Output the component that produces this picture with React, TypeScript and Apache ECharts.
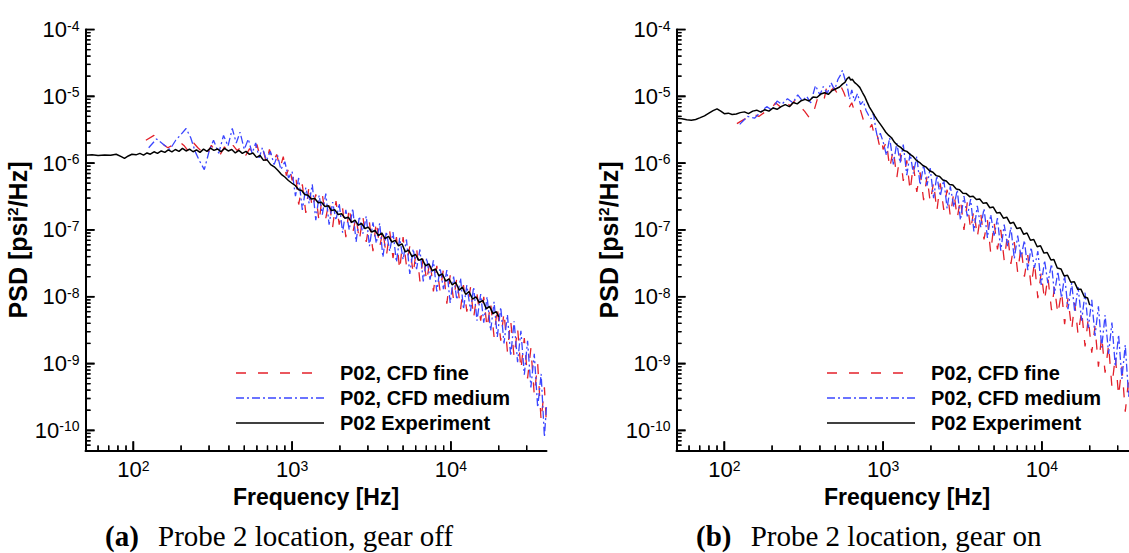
import React, { useEffect, useRef } from 'react';
import * as echarts from 'echarts';

const X_MIN = 50;
const X_MAX = 40000;
const Y_MIN = 5e-11;
const Y_MAX = 1e-4;

const SERIES_NAMES = ['P02, CFD fine', 'P02, CFD medium', 'P02 Experiment'];
const CAPTIONS = [
  { tag: '(a)', text: 'Probe 2 location, gear off' },
  { tag: '(b)', text: 'Probe 2 location, gear on' },
];
const X_TITLE = 'Frequency [Hz]';
const MINOR_MULTIPLIERS = [2, 3, 4, 5, 6, 7, 8, 9];
const X_DECADES = [10, 100, 1000, 10000];
const Y_DECADES = [1e-11, 1e-10, 1e-9, 1e-8, 1e-7, 1e-6, 1e-5];
const X_MAJOR = [100, 1000, 10000];
const Y_MAJOR = [1e-10, 1e-9, 1e-8, 1e-7, 1e-6, 1e-5, 1e-4];

// ---------- (a) gear off ----------
const expA: [number, number][] = [
  [50,1.31e-6],[55,1.33e-6],[60,1.3e-6],[66,1.32e-6],[72,1.31e-6],[78,1.36e-6],[84,1.25e-6],[88,1.18e-6],[93,1.28e-6],[98,1.36e-6],
  [104,1.33e-6],[110,1.4e-6],[116,1.32e-6],[122,1.42e-6],[128,1.36e-6],[135,1.48e-6],[142,1.4e-6],[150,1.52e-6],[158,1.45e-6],[166,1.58e-6],
  [175,1.47e-6],[184,1.6e-6],[194,1.5e-6],[204,1.66e-6],[215,1.52e-6],[226,1.62e-6],[238,1.48e-6],[250,1.58e-6],[263,1.45e-6],[277,1.62e-6],
  [291,1.5e-6],[306,1.68e-6],[322,1.55e-6],[339,1.63e-6],[357,1.48e-6],[376,1.66e-6],[396,1.52e-6],[417,1.6e-6],[439,1.42e-6],[462,1.55e-6],
  [486,1.4e-6],[512,1.5e-6],[539,1.35e-6],[567,1.42e-6],[597,1.22e-6],[628,1.3e-6],[661,1.1e-6],[696,1.12e-6],[733,9.5e-7],[772,8.8e-7],
  [812,7.8e-7],[855,6.8e-7],[900,6.2e-7],[948,5.5e-7],[998,5.0e-7],[1050,4.6e-7],[1100,4.0e-7],[1150,3.9e-7],[1200,3.4e-7],[1260,3.3e-7],
  [1320,2.9e-7],[1390,2.95e-7],[1460,2.55e-7],[1530,2.6e-7],[1610,2.25e-7],[1690,2.3e-7],[1770,1.95e-7],[1860,2.0e-7],[1950,1.7e-7],[2050,1.75e-7],
  [2150,1.5e-7],[2260,1.55e-7],[2370,1.3e-7],[2490,1.4e-7],[2610,1.18e-7],[2740,1.25e-7],[2880,1.05e-7],[3020,1.1e-7],[3170,9.3e-8],[3330,9.8e-8],
  [3500,8.2e-8],[3670,9.0e-8],[3850,7.4e-8],[4050,8.0e-8],[4250,6.6e-8],[4460,7.0e-8],[4680,5.8e-8],[4920,6.2e-8],[5160,4.7e-8],[5420,5.0e-8],
  [5690,4.0e-8],[5980,4.3e-8],[6280,3.5e-8],[6590,3.7e-8],[6920,2.9e-8],[7270,3.1e-8],[7630,2.45e-8],[8010,2.6e-8],[8410,2.05e-8],[8830,2.2e-8],
  [9270,1.72e-8],[9740,1.85e-8],[10200,1.5e-8],[10700,1.65e-8],[11300,1.25e-8],[11800,1.4e-8],[12400,1.08e-8],[13000,1.2e-8],[13700,9.2e-9],[14400,1.0e-8],
  [15100,8.2e-9],[15900,8.8e-9],[16700,6.6e-9],[17500,7.2e-9],[18400,5.6e-9],[19300,6.0e-9],[20000,5.0e-9],
];

const fineA: [number, number][] = [
  [120,2.2e-6],[135,2.6e-6],[150,2.0e-6],[165,1.7e-6],[180,1.9e-6],[195,2.1e-6],[210,1.8e-6],[225,1.45e-6],[240,2.0e-6],[255,1.7e-6],
  [270,1.5e-6],[290,1.3e-6],[310,1.85e-6],[330,1.5e-6],[350,1.3e-6],[375,1.75e-6],[400,1.5e-6],[425,1.85e-6],[450,1.55e-6],[480,1.75e-6],
  [510,1.3e-6],[540,1.65e-6],[570,1.35e-6],[600,1.9e-6],[630,1.25e-6],[660,1.5e-6],[690,1.0e-6],[720,1.6e-6],[760,1.05e-6],[800,1.35e-6],
  [840,8.5e-7],[880,1.25e-6],[920,6.5e-7],[960,9.0e-7],[1000,5.5e-7],
  [1050,7.2e-7],[1100,2.4e-7],[1160,4.8e-7],[1220,1.8e-7],[1280,4.7e-7],[1340,2.1e-7],[1410,3.4e-7],[1480,1.3e-7],[1550,3.4e-7],[1630,1.5e-7],
  [1710,2.7e-7],[1800,1.1e-7],[1890,2.7e-7],[1980,1.2e-7],[2080,2.1e-7],[2180,7.8e-8],[2290,2.2e-7],[2410,9.0e-8],[2530,1.6e-7],[2650,6.9e-8],
  [2790,1.6e-7],[2930,6.6e-8],[3070,1.3e-7],[3230,4.8e-8],[3390,1.35e-7],[3560,5.5e-8],[3730,9.8e-8],[3920,4.0e-8],[4120,9.5e-8],[4320,3.8e-8],
  [4540,7.8e-8],[4760,2.5e-8],[5000,7.8e-8],[5250,2.9e-8],[5510,5.7e-8],[5790,2.2e-8],[6080,5.4e-8],[6380,1.7e-8],[6700,4.0e-8],[7040,1.7e-8],
  [7390,3.6e-8],[7760,1.2e-8],[8150,2.9e-8],[8550,1.2e-8],[8980,2.6e-8],[9430,7.9e-9],[9900,2.1e-8],[10400,9.0e-9],[10900,1.9e-8],[11500,6.4e-9],
  [12000,1.5e-8],[12600,6.0e-9],[13300,1.4e-8],[13900,4.8e-9],[14600,1.1e-8],[15400,4.4e-9],[16100,1.0e-8],[16900,3.4e-9],[17800,8.1e-9],[18700,2.5e-9],
  [19600,7.0e-9],[20600,2.2e-9],[21600,5.9e-9],[22700,1.5e-9],[23800,4.4e-9],[25000,1.25e-9],[26300,3.4e-9],[27600,8.1e-10],[29000,2.4e-9],[30400,6.0e-10],
  [31900,1.7e-9],[33500,3.4e-10],[35200,9.9e-10],[37000,1.4e-10],[38800,4.4e-10],[40000,1.2e-10],
];

const medA: [number, number][] = [
  [125,1.7e-6],[140,2.3e-6],[155,1.9e-6],[170,1.6e-6],[185,2.2e-6],[200,2.7e-6],[215,3.3e-6],[230,2.4e-6],[245,1.5e-6],[260,1.1e-6],
  [280,8.0e-7],[300,1.5e-6],[320,2.2e-6],[345,1.4e-6],[370,2.6e-6],[395,1.8e-6],[420,3.3e-6],[445,2.0e-6],[470,2.9e-6],[500,1.6e-6],
  [530,2.3e-6],[560,1.4e-6],[590,2.0e-6],[620,1.2e-6],[650,1.7e-6],[690,1.1e-6],[730,1.5e-6],[770,9.5e-7],[810,1.3e-6],[850,8.0e-7],
  [900,1.05e-6],[950,6.0e-7],[1000,7.5e-7],
  [1050,3.2e-7],[1100,6.0e-7],[1160,2.0e-7],[1220,4.3e-7],[1280,2.5e-7],[1340,4.8e-7],[1410,1.4e-7],[1480,3.3e-7],[1550,1.7e-7],[1630,3.5e-7],
  [1710,1.2e-7],[1800,2.6e-7],[1890,1.4e-7],[1980,2.5e-7],[2080,9.1e-8],[2180,2.0e-7],[2290,1.0e-7],[2410,2.1e-7],[2530,6.6e-8],[2650,1.6e-7],
  [2790,8.8e-8],[2930,1.6e-7],[3070,5.7e-8],[3230,1.3e-7],[3390,6.3e-8],[3560,1.26e-7],[3730,3.9e-8],[3920,9.5e-8],[4120,4.8e-8],[4320,9.3e-8],
  [4540,3.3e-8],[4760,7.6e-8],[5000,3.6e-8],[5250,7.2e-8],[5510,2.2e-8],[5790,5.2e-8],[6080,2.6e-8],[6380,5.1e-8],[6700,1.7e-8],[7040,3.8e-8],
  [7390,1.8e-8],[7760,3.5e-8],[8150,1.2e-8],[8550,2.7e-8],[8980,1.3e-8],[9430,2.5e-8],[9900,8.1e-9],[10400,2.0e-8],[10900,9.0e-9],[11500,1.9e-8],
  [12000,6.5e-9],[12600,1.5e-8],[13300,6.1e-9],[13900,1.4e-8],[14600,4.4e-9],[15400,1.1e-8],[16100,4.1e-9],[16900,1.0e-8],[17800,3.1e-9],[18700,8.4e-9],
  [19600,2.5e-9],[20600,7.0e-9],[21600,2.0e-9],[22700,5.4e-9],[23800,1.3e-9],[25000,4.3e-9],[26300,1.05e-9],[27600,3.1e-9],[29000,6.8e-10],[30400,2.2e-9],
  [31900,4.4e-10],[33500,1.4e-9],[35200,2.2e-10],[37000,7.0e-10],[38800,8.0e-11],[40000,2.3e-10],
];

// ---------- (b) gear on ----------
const expB: [number, number][] = [
  [50,4.7e-6],[54,4.6e-6],[58,4.45e-6],[62,4.4e-6],[66,4.5e-6],[70,4.75e-6],[75,5.1e-6],[80,5.6e-6],[85,6.1e-6],[90,6.5e-6],
  [95,6.0e-6],[100,5.5e-6],[106,5.6e-6],[112,5.35e-6],[119,5.45e-6],[126,5.7e-6],[134,5.85e-6],[142,5.5e-6],[151,6.0e-6],[160,6.2e-6],
  [170,5.8e-6],[180,6.3e-6],[191,6.0e-6],[203,6.7e-6],[215,6.4e-6],[228,7.0e-6],[242,7.5e-6],[257,7.0e-6],[272,8.1e-6],[288,7.7e-6],
  [305,8.6e-6],[323,9.0e-6],[342,8.5e-6],[362,9.8e-6],[383,9.6e-6],[405,1.08e-5],[428,1.13e-5],[452,1.07e-5],[478,1.22e-5],[505,1.3e-5],
  [532,1.38e-5],[555,1.52e-5],[575,1.62e-5],[595,1.85e-5],[610,1.95e-5],[625,1.75e-5],[640,1.8e-5],[660,1.62e-5],[685,1.5e-5],[713,1.36e-5],
  [740,1.15e-5],[765,1.0e-5],[790,8.4e-6],[820,6.9e-6],[850,6.0e-6],[885,5.1e-6],[920,4.4e-6],[955,3.9e-6],[995,3.4e-6],[1040,2.9e-6],
  [1085,2.6e-6],[1130,2.4e-6],[1180,2.05e-6],[1230,1.85e-6],[1290,1.72e-6],[1350,1.55e-6],[1410,1.5e-6],[1480,1.35e-6],[1550,1.25e-6],[1620,1.1e-6],
  [1700,1.02e-6],[1780,9.2e-7],[1870,8.7e-7],[1960,7.7e-7],[2060,7.3e-7],[2160,6.5e-7],[2270,6.3e-7],[2380,5.6e-7],[2500,5.4e-7],[2620,4.8e-7],
  [2750,4.7e-7],[2890,4.1e-7],[3030,4.0e-7],[3180,3.55e-7],[3340,3.5e-7],[3510,3.15e-7],[3690,3.2e-7],[3870,2.85e-7],[4060,2.9e-7],[4270,2.5e-7],
  [4480,2.55e-7],[4700,2.15e-7],[4940,2.2e-7],[5190,1.8e-7],[5450,1.82e-7],[5720,1.5e-7],[6010,1.55e-7],[6310,1.25e-7],[6630,1.3e-7],[6960,1.05e-7],
  [7310,1.08e-7],[7680,8.6e-8],[8060,9.0e-8],[8470,7.0e-8],[8890,7.2e-8],[9340,5.6e-8],[9800,5.8e-8],[10300,4.5e-8],[10800,4.6e-8],[11400,3.55e-8],
  [11900,3.6e-8],[12500,2.7e-8],[13200,2.6e-8],[13800,2.05e-8],[14500,2.1e-8],[15200,1.65e-8],[16000,1.68e-8],[16800,1.3e-8],[17600,1.3e-8],[18500,1.0e-8],
  [19400,9.6e-9],[20000,7.5e-9],
];

const fineB: [number, number][] = [
  [120,3.9e-6],[135,4.6e-6],[150,5.5e-6],[165,5.0e-6],[180,5.8e-6],[195,6.2e-6],[210,8.0e-6],[225,7.0e-6],[240,8.5e-6],[260,7.2e-6],
  [280,8.8e-6],[300,7.0e-6],[320,6.0e-6],[345,4.7e-6],[365,5.8e-6],[385,9.0e-6],[405,1.05e-5],[425,9.0e-6],[445,1.5e-5],[465,1.2e-5],
  [490,1.35e-5],[515,1.1e-5],[540,1.45e-5],[565,1.15e-5],[590,8.7e-6],[610,6.8e-6],[635,8.0e-6],[660,6.0e-6],[690,5.5e-6],[720,6.2e-6],
  [750,4.5e-6],[790,3.7e-6],[820,3.3e-6],[850,3.8e-6],[880,2.6e-6],[910,2.9e-6],[945,1.9e-6],[980,2.3e-6],[1000,1.6e-6],
  [1050,2.1e-6],[1100,8.4e-7],[1160,1.6e-6],[1220,6.0e-7],[1280,1.4e-6],[1340,5.4e-7],[1410,1.1e-6],[1480,3.8e-7],[1550,9.5e-7],[1630,3.7e-7],
  [1710,7.3e-7],[1800,2.8e-7],[1890,6.3e-7],[1980,2.6e-7],[2080,5.2e-7],[2180,1.9e-7],[2290,5.0e-7],[2410,2.0e-7],[2530,4.0e-7],[2650,1.6e-7],
  [2790,3.7e-7],[2930,1.5e-7],[3070,2.9e-7],[3230,1.0e-7],[3390,2.6e-7],[3560,1.0e-7],[3730,2.0e-7],[3920,7.8e-8],[4120,1.75e-7],[4320,7.2e-8],
  [4540,1.4e-7],[4760,4.5e-8],[5000,1.3e-7],[5250,5.1e-8],[5510,1.0e-7],[5790,3.5e-8],[6080,8.8e-8],[6380,3.1e-8],[6700,6.6e-8],[7040,2.3e-8],
  [7390,5.7e-8],[7760,2.0e-8],[8150,4.2e-8],[8550,1.4e-8],[8980,3.3e-8],[9430,9.5e-9],[9900,2.3e-8],[10400,8.8e-9],[10900,2.0e-8],[11500,6.3e-9],
  [12000,1.4e-8],[12600,5.5e-9],[13300,1.2e-8],[13900,3.9e-9],[14600,9.5e-9],[15400,3.2e-9],[16100,8.1e-9],[16900,2.7e-9],[17800,6.2e-9],[18700,1.8e-9],
  [19600,4.8e-9],[20600,1.45e-9],[21600,3.6e-9],[22700,9.0e-10],[23800,2.6e-9],[25000,7.3e-10],[26300,1.9e-9],[27600,4.5e-10],[29000,1.3e-9],[30400,3.3e-10],
  [31900,9.0e-10],[33500,1.9e-10],[35200,5.9e-10],[37000,1.0e-10],[38800,3.4e-10],[40000,9.0e-11],
];

const medB: [number, number][] = [
  [125,3.8e-6],[140,5.0e-6],[155,4.7e-6],[170,5.9e-6],[185,7.0e-6],[200,6.2e-6],[215,8.5e-6],[230,7.6e-6],[250,9.2e-6],[270,8.0e-6],
  [290,1.05e-5],[310,8.6e-6],[330,1.0e-5],[350,8.0e-6],[375,1.45e-5],[400,1.05e-5],[420,1.4e-5],[445,1.1e-5],[470,1.6e-5],[495,1.25e-5],
  [520,1.8e-5],[540,2.1e-5],[555,2.45e-5],[575,1.8e-5],[595,1.4e-5],[615,9.0e-6],[635,1.25e-5],[660,8.5e-6],[690,1.1e-5],[720,7.5e-6],
  [750,8.5e-6],[780,6.2e-6],[810,5.2e-6],[840,4.6e-6],[870,5.5e-6],[900,3.2e-6],[925,2.3e-6],[960,2.8e-6],[1000,2.1e-6],
  [1050,1.3e-6],[1100,2.4e-6],[1160,9.6e-7],[1220,2.0e-6],[1280,1.0e-6],[1340,1.9e-6],[1410,6.6e-7],[1480,1.4e-6],[1550,7.0e-7],[1630,1.26e-6],
  [1710,4.7e-7],[1800,9.4e-7],[1890,4.6e-7],[1980,8.4e-7],[2080,3.0e-7],[2180,6.5e-7],[2290,3.2e-7],[2410,5.7e-7],[2530,2.1e-7],[2650,4.5e-7],
  [2790,2.2e-7],[2930,4.0e-7],[3070,1.4e-7],[3230,3.2e-7],[3390,1.6e-7],[3560,2.9e-7],[3730,9.5e-8],[3920,2.3e-7],[4120,1.1e-7],[4320,2.1e-7],
  [4540,7.6e-8],[4760,1.7e-7],[5000,8.2e-8],[5250,1.5e-7],[5510,4.9e-8],[5790,1.2e-7],[6080,5.7e-8],[6380,1.1e-7],[6700,3.7e-8],[7040,8.2e-8],
  [7390,3.9e-8],[7760,7.0e-8],[8150,2.5e-8],[8550,5.5e-8],[8980,2.7e-8],[9430,4.8e-8],[9900,1.5e-8],[10400,3.5e-8],[10900,1.6e-8],[11500,3.1e-8],
  [12000,1.1e-8],[12600,2.4e-8],[13300,9.6e-9],[13900,2.1e-8],[14600,6.5e-9],[15400,1.6e-8],[16100,5.9e-9],[16900,1.4e-8],[17800,4.4e-9],[18700,1.15e-8],
  [19600,3.4e-9],[20600,9.0e-9],[21600,2.6e-9],[22700,7.2e-9],[23800,1.75e-9],[25000,5.3e-9],[26300,1.4e-9],[27600,4.1e-9],[29000,9.0e-10],[30400,2.7e-9],
  [31900,5.9e-10],[33500,1.9e-9],[35200,3.2e-10],[37000,1.1e-9],[38800,2.0e-10],[40000,6.0e-10],
];

const PANELS = [
  { fine: fineA, medium: medA, exp: expA },
  { fine: fineB, medium: medB, exp: expB },
];

const RED = '#e3202a';
const BLUE = '#3a45ff';
const BLACK = '#000000';
const SERIES_COLORS = [RED, BLUE, BLACK];
const SERIES_DASH: (number[] | null)[] = [[10, 12], [8, 3, 2, 3], null];
const SERIES_WIDTH = [1.3, 1.3, 1.5];
const SANS = '"Liberation Sans", Arial, Helvetica, sans-serif';
const SERIF = '"Liberation Serif", "Times New Roman", Times, serif';

const GRID_LEFT = [85.5, 676.5];
const GRID_TOP = 29.5;
const GRID_W = 461;
const GRID_H = 421;
const LEGEND_LEFT = [236, 827];
const LEGEND_TOP = 373;
const LEGEND_STEP = 25;
const LEGEND_ICON_W = 88;
const CAPTION_LEFT = [105, 696];

// tick lengths expressed as ratios on the log axes (major ~9px, minor ~5px)
const X_TICK_RATIO = { major: 1.14, minor: 1.075 };
const Y_TICK_RATIO = { major: 1.37, minor: 1.19 };

function powLabel(v: number): string {
  const l = Math.log10(v);
  const e = Math.round(l);
  if (Math.abs(l - e) > 1e-6) return '';
  return `{a|10}{b|${e}}`;
}

const labelRich = {
  a: { fontSize: 22, lineHeight: 22, fontFamily: SANS, color: '#000' },
  b: { fontSize: 14, lineHeight: 14, fontFamily: SANS, color: '#000', verticalAlign: 'top' },
};

function tickValues(major: boolean) {
  const xv: number[] = major ? X_MAJOR.slice() : [];
  const yv: number[] = major ? Y_MAJOR.slice() : [];
  if (!major) {
    X_DECADES.forEach((d) => MINOR_MULTIPLIERS.forEach((m) => { const v = d * m; if (v > X_MIN && v < X_MAX) xv.push(v); }));
    Y_DECADES.forEach((d) => MINOR_MULTIPLIERS.forEach((m) => { const v = d * m; if (v > Y_MIN && v < Y_MAX) yv.push(v); }));
  }
  return { xv, yv };
}

function tickSegments(major: boolean) {
  const { xv, yv } = tickValues(major);
  const rx = major ? X_TICK_RATIO.major : X_TICK_RATIO.minor;
  const ry = major ? Y_TICK_RATIO.major : Y_TICK_RATIO.minor;
  const out: any[] = [];
  xv.forEach((v) => { out.push([v, Y_MIN], [v, Y_MIN * ry], ['-', '-']); });
  yv.forEach((v) => { out.push([X_MIN, v], [X_MIN * rx, v], ['-', '-']); });
  return out;
}

export default function App() {
  const ref = useRef<HTMLDivElement>(null);
  useEffect(() => {
    if (!ref.current) return;
    const chart = echarts.init(ref.current, null, { renderer: 'svg' });

    const grid = GRID_LEFT.map((left) => ({
      left, top: GRID_TOP, width: GRID_W, height: GRID_H, containLabel: false, outerBoundsMode: 'none',
    }));

    const xAxis = [0, 1].map((i) => ({
      type: 'log', gridIndex: i, min: X_MIN, max: X_MAX,
      name: X_TITLE, nameLocation: 'middle', nameGap: 27,
      nameTextStyle: { fontSize: 23, fontWeight: 'bold', color: '#000', fontFamily: SANS },
      axisLine: { show: true, onZero: false, lineStyle: { color: '#000', width: 2 } },
      axisTick: { show: false },
      axisLabel: { formatter: powLabel, margin: 8, rich: labelRich, showMinLabel: false, showMaxLabel: false },
      splitLine: { show: false },
    }));

    const yAxis = [0, 1].map((i) => ({
      type: 'log', gridIndex: i, min: Y_MIN, max: Y_MAX,
      name: '{t|PSD [psi}{s|2}{t|/Hz]}', nameLocation: 'middle', nameGap: 50,
      nameTextStyle: {
        rich: {
          t: { fontSize: 25, fontWeight: 'bold', color: '#000', fontFamily: SANS, lineHeight: 26 },
          s: { fontSize: 15, fontWeight: 'bold', color: '#000', fontFamily: SANS, lineHeight: 15, verticalAlign: 'top' },
        },
      },
      axisLine: { show: true, onZero: false, lineStyle: { color: '#000', width: 2 } },
      axisTick: { show: false },
      axisLabel: { formatter: powLabel, margin: 6, rich: labelRich, showMinLabel: false, showMaxLabel: false },
      splitLine: { show: false },
    }));

    const series: any[] = [];
    PANELS.forEach((p, i) => {
      [p.fine, p.medium, p.exp].forEach((d, k) => {
        series.push({
          name: SERIES_NAMES[k], type: 'line', xAxisIndex: i, yAxisIndex: i, data: d,
          symbol: 'none', showSymbol: false, silent: true, z: 2 + k,
          lineStyle: { color: SERIES_COLORS[k], width: SERIES_WIDTH[k], type: SERIES_DASH[k] || 'solid' },
          itemStyle: { color: SERIES_COLORS[k] },
        });
      });
    });
    PANELS.forEach((p, i) => {
      series.push({
        type: 'line', xAxisIndex: i, yAxisIndex: i, data: tickSegments(true),
        symbol: 'none', z: 10, lineStyle: { color: '#000', width: 1.7 },
      });
      series.push({
        type: 'line', xAxisIndex: i, yAxisIndex: i, data: tickSegments(false),
        symbol: 'none', z: 10, lineStyle: { color: '#000', width: 1.3 },
      });
    });

    // Legend drawn as graphic elements (lines + real text)
    const legendEls: any[] = [];
    LEGEND_LEFT.forEach((left) => {
      SERIES_NAMES.forEach((name, k) => {
        const y = LEGEND_TOP + k * LEGEND_STEP;
        legendEls.push({
          type: 'line', silent: true, z: 50,
          shape: { x1: left, y1: y, x2: left + LEGEND_ICON_W, y2: y },
          style: { stroke: SERIES_COLORS[k], lineWidth: 1.5, lineDash: SERIES_DASH[k] || undefined },
        });
        legendEls.push({
          type: 'text', silent: true, z: 50, x: left + LEGEND_ICON_W + 16, y,
          style: { text: name, fontSize: 20, fontWeight: 'bold', fontFamily: SANS, fill: '#000', verticalAlign: 'middle', align: 'left' },
        });
      });
    });

    const captions = CAPTIONS.map((c, i) => ({
      type: 'text', left: CAPTION_LEFT[i], top: 521,
      style: {
        text: `{b|${c.tag}}{n| ${c.text}}`,
        rich: {
          b: { fontSize: 29, fontWeight: 'bold', fontFamily: SERIF, fill: '#000', padding: [0, 12, 0, 0] },
          n: { fontSize: 29, fontFamily: SERIF, fill: '#000' },
        },
      },
    }));

    const baseGraphic = [...captions, ...legendEls];
    chart.setOption({
      animation: false,
      grid, xAxis, yAxis, series, graphic: baseGraphic,
    } as any);

    // Second route for the tick marks: pixel positions from the chart's own log scales.
    try {
      const tickEls: any[] = [];
      [0, 1].forEach((i) => {
        [true, false].forEach((major) => {
          const { xv, yv } = tickValues(major);
          const len = major ? 9 : 5;
          const lw = major ? 1.7 : 1.3;
          xv.forEach((v) => {
            const pt = chart.convertToPixel({ gridIndex: i } as any, [v, Y_MIN]) as any;
            if (pt && isFinite(pt[0]) && isFinite(pt[1])) {
              tickEls.push({ type: 'line', silent: true, z: 60, shape: { x1: pt[0], y1: pt[1], x2: pt[0], y2: pt[1] - len }, style: { stroke: '#000', lineWidth: lw } });
            }
          });
          yv.forEach((v) => {
            const pt = chart.convertToPixel({ gridIndex: i } as any, [X_MIN, v]) as any;
            if (pt && isFinite(pt[0]) && isFinite(pt[1])) {
              tickEls.push({ type: 'line', silent: true, z: 60, shape: { x1: pt[0], y1: pt[1], x2: pt[0] + len, y2: pt[1] }, style: { stroke: '#000', lineWidth: lw } });
            }
          });
        });
      });
      if (tickEls.length) chart.setOption({ graphic: [...baseGraphic, ...tickEls] } as any);
    } catch (e) {
      // keep the chart as drawn
    }

    return () => chart.dispose();
  }, []);

  return <div ref={ref} style={{ position: 'fixed', left: 0, top: 0, width: 1129, height: 553, background: '#fff' }} />;
}
